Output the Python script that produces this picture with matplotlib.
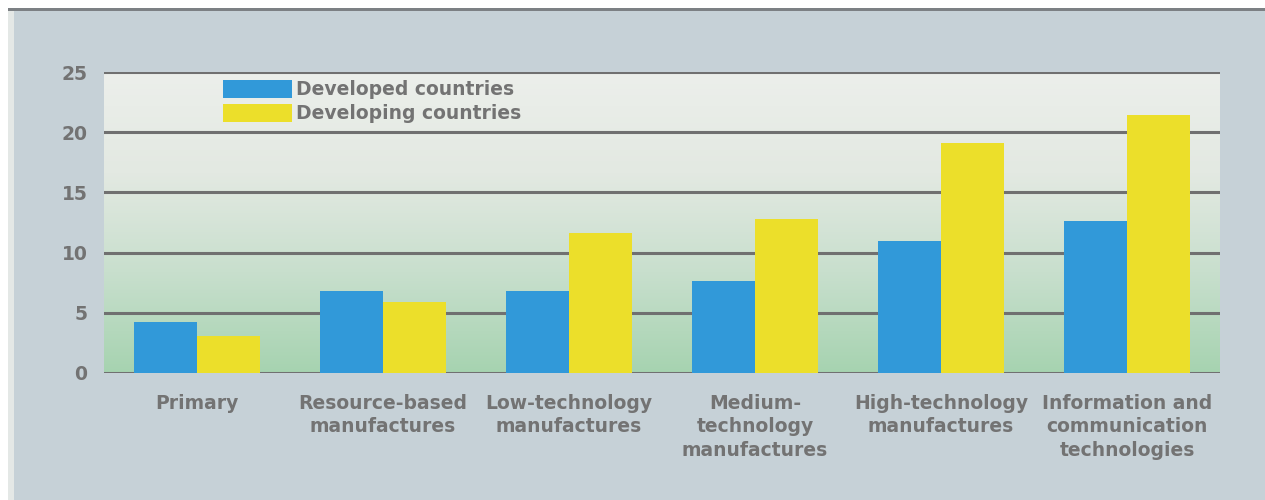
import matplotlib.pyplot as plt
import matplotlib.patches as mpatches
import numpy as np
from matplotlib.colors import LinearSegmentedColormap

categories = ["Primary", "Resource-based\nmanufactures", "Low-technology\nmanufactures",
              "Medium-\ntechnology\nmanufactures", "High-technology\nmanufactures",
              "Information and\ncommunication\ntechnologies"]
developed = [4.2, 6.8, 6.8, 7.6, 11.0, 12.6]
developing = [3.1, 5.9, 11.6, 12.8, 19.1, 21.4]
series_names = ["Developed countries", "Developing countries"]
yticks = [0, 5, 10, 15, 20, 25]

blue = "#3199d9"
yellow = "#ecdf2a"
grey_text = "#737373"
bg = "#c6d1d7"

plt.rcParams['font.family'] = ['DejaVu Sans']

fig = plt.figure(figsize=(12.65, 5), dpi=100, facecolor=bg)

# white strip along the top edge and the dark rule under it
fig.patches.append(mpatches.Rectangle((0, 492 / 500), 1, 8 / 500, transform=fig.transFigure,
                                      facecolor="white", edgecolor="none", zorder=0))
fig.patches.append(mpatches.Rectangle((8 / 1265, 490 / 500), 1, 2 / 500, transform=fig.transFigure,
                                      facecolor="#b0b4b4", edgecolor="none", zorder=1))
fig.patches.append(mpatches.Rectangle((8 / 1265, 489 / 500), 1, 2.5 / 500, transform=fig.transFigure,
                                      facecolor="#7c8084", edgecolor="none", zorder=1))
# pale strip on the left edge
fig.patches.append(mpatches.Rectangle((0, 0), 8 / 1265, 492 / 500, transform=fig.transFigure,
                                      facecolor="white", edgecolor="none", zorder=0))
fig.patches.append(mpatches.Rectangle((8 / 1265, 0), 6 / 1265, 490 / 500, transform=fig.transFigure,
                                      facecolor="#e4e8e6", edgecolor="none", zorder=0))

ax = fig.add_axes([104 / 1265, 127 / 500, 1116 / 1265, 301 / 500])
ax.set_facecolor("none")

# vertical gradient behind the bars
cmap = LinearSegmentedColormap.from_list("bggrad", ["#a6d3b0", "#c8dfcd", "#e3e9e2", "#ecefeb"])
grad = np.linspace(0, 1, 256).reshape(-1, 1)
ax.imshow(grad, cmap=cmap, aspect="auto", extent=(-0.5, 5.5, 0, 25), origin="lower", zorder=0)

x = np.arange(len(categories))
w = 0.34
ax.bar(x - w / 2, developed, w, color=blue, label=series_names[0], zorder=3)
ax.bar(x + w / 2, developing, w, color=yellow, label=series_names[1], zorder=3)

for v in yticks:
    ax.axhline(v, color="#707070", lw=2.2, zorder=2)

ax.set_xlim(-0.5, 5.5)
ax.set_ylim(0, 25)
ax.set_yticks(yticks)
ax.set_xticks(x)
ax.set_xticklabels(categories, multialignment="center", linespacing=1.3)
ax.tick_params(axis="y", length=0, pad=12, labelsize=13.5, labelcolor=grey_text)
ax.tick_params(axis="x", length=0, pad=15, labelsize=13.5, labelcolor=grey_text)
for lab in ax.get_xticklabels() + ax.get_yticklabels():
    lab.set_fontweight("bold")
for s in ax.spines.values():
    s.set_visible(False)

leg = ax.legend(loc="upper left", bbox_to_anchor=(0.1, 1.0), frameon=False,
                handlelength=3.7, handleheight=1.1, handletextpad=0.2,
                labelspacing=0.25, borderaxespad=0.0,
                prop={"size": 13.5, "weight": "bold"})
for t in leg.get_texts():
    t.set_color(grey_text)

fig.savefig("out.png", dpi=100, facecolor=bg)
